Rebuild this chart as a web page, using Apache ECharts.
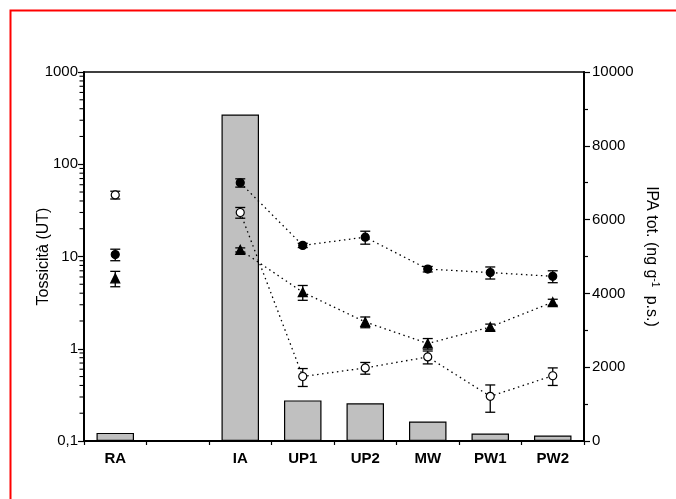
<!DOCTYPE html>
<html>
<head>
<meta charset="utf-8">
<script src="https://cdn.jsdelivr.net/npm/echarts@6/dist/echarts.min.js"></script>
<style>html,body{margin:0;padding:0;background:#fff}#c{width:676px;height:499px}</style>
</head>
<body>
<div id="c"></div>
<script>
const categories = ['RA', '', 'IA', 'UP1', 'UP2', 'MW', 'PW1', 'PW2'];
const ipaTot = [220, null, 8850, 1100, 1020, 530, 205, 150];
const toxFilled = [10.5, null, 63, 13.2, 16.2, 7.3, 6.7, 6.1];
const toxFilledErr = [1.5, null, 6.5, 0.7, 2.6, 0.5, 1.0, 0.9];
const toxOpen = [46.5, null, 30, 0.5, 0.62, 0.815, 0.305, 0.51];
const toxOpenErr = [4.5, null, 4, 0.11, 0.09, 0.13, 0.1, 0.11];
const toxTri = [5.8, null, 11.8, 4.1, 1.95, 1.14, 1.72, 3.2];
const toxTriErr = [1.1, null, 0.6, 0.75, 0.26, 0.15, 0.13, 0.24];
const leftMinorTicks = [0.2,0.3,0.4,0.5,0.6,0.7,0.8,0.9,2,3,4,5,6,7,8,9,20,30,40,50,60,70,80,90,200,300,400,500,600,700,800,900];

const FONT = '"Liberation Sans", Arial, Helvetica, sans-serif';
const chart = echarts.init(document.getElementById('c'), null, {renderer: 'canvas'});

function errData(vals, errs) {
  const out = [];
  vals.forEach((v, i) => { if (v != null) out.push([i, v - errs[i], v + errs[i]]); });
  return out;
}
function errSeries(vals, errs) {
  return {
    type: 'custom', yAxisIndex: 0, z: 4, silent: true,
    data: errData(vals, errs),
    encode: {x: 0, y: [1, 2]},
    renderItem: function (params, api) {
      const lo = api.coord([api.value(0), api.value(1)]);
      const hi = api.coord([api.value(0), api.value(2)]);
      const w = 5;
      const st = {stroke: '#000', lineWidth: 1.3};
      return {type: 'group', children: [
        {type: 'line', shape: {x1: lo[0], y1: lo[1], x2: hi[0], y2: hi[1]}, style: st},
        {type: 'line', shape: {x1: lo[0]-w, y1: lo[1], x2: lo[0]+w, y2: lo[1]}, style: st},
        {type: 'line', shape: {x1: hi[0]-w, y1: hi[1], x2: hi[0]+w, y2: hi[1]}, style: st}
      ]};
    }
  };
}
function toLine(vals) { return vals.map(v => v == null ? '-' : v); }
function lineSeries(vals, symbol, size, fill) {
  return {
    type: 'line', yAxisIndex: 0, z: 5,
    data: toLine(vals),
    symbol: symbol, symbolSize: size, showSymbol: true, showAllSymbol: true,
    connectNulls: false,
    lineStyle: {color: '#000', width: 1.3, type: [1.5, 3.5]},
    itemStyle: {color: fill, borderColor: '#000', borderWidth: 1.2},
    emphasis: {disabled: true}
  };
}

const option = {
  animation: false,
  backgroundColor: '#fff',
  textStyle: {fontFamily: FONT},
  graphic: [{
    type: 'rect', silent: true, z: 100,
    shape: {x: 10.5, y: 10.5, width: 800, height: 800},
    style: {fill: 'none', stroke: '#ff0000', lineWidth: 2}
  }],
  grid: {left: 84, right: 92, top: 72, bottom: 58, show: true, borderColor: '#000', borderWidth: 1.5, backgroundColor: 'transparent'},
  xAxis: {
    type: 'category', data: categories,
    axisLine: {lineStyle: {color: '#000', width: 2}},
    axisTick: {show: true, length: 4, lineStyle: {color: '#000', width: 1.2}},
    axisLabel: {color: '#000', fontSize: 15, fontFamily: FONT, fontWeight: 'bold', margin: 10},
    splitLine: {show: false}
  },
  yAxis: [{
    type: 'log', logBase: 10, min: 0.1, max: 1000, position: 'left',
    name: 'Tossicità (UT)', nameLocation: 'middle', nameGap: 32, nameMoveOverlap: false,
    nameTextStyle: {color: '#000', fontSize: 16, fontFamily: FONT},
    axisLine: {show: true, lineStyle: {color: '#000', width: 2}},
    axisTick: {show: true, length: 6, lineStyle: {color: '#000', width: 1.2}},
    axisLabel: {color: '#000', fontSize: 15, fontFamily: FONT, margin: 6,
      formatter: v => (Math.abs(v - 0.1) < 1e-9 ? '0,1' : String(Math.round(v)))},
    splitLine: {show: false}
  }, {
    type: 'value', min: 0, max: 10000, interval: 2000, position: 'right',
    name: 'IPA tot. (ng g{sup|-1} p.s.)', nameLocation: 'middle', nameGap: 58, nameRotate: -90, nameMoveOverlap: false,
    nameTextStyle: {color: '#000', fontSize: 16, fontFamily: FONT,
      rich: {sup: {fontSize: 10, fontFamily: FONT, color: '#000', verticalAlign: 'top', padding: [0, 4, 8, 0]}}},
    axisLine: {show: true, lineStyle: {color: '#000', width: 2}},
    axisTick: {show: true, length: 6, lineStyle: {color: '#000', width: 1.2}},
    minorTick: {show: true, splitNumber: 2, length: 4, lineStyle: {color: '#000', width: 1.2}},
    axisLabel: {color: '#000', fontSize: 15, fontFamily: FONT, margin: 8, formatter: v => String(v)},
    splitLine: {show: false}
  }],
  series: [
    {
      type: 'bar', yAxisIndex: 1, z: 2, barWidth: '60%',
      data: ipaTot.map(v => v == null ? '-' : v),
      itemStyle: {color: '#c0c0c0', borderColor: '#000', borderWidth: 1.2},
      emphasis: {disabled: true}
    },
    {
      type: 'custom', yAxisIndex: 0, z: 6, silent: true, clip: false,
      data: leftMinorTicks.map(v => [0, v]),
      encode: {x: 0, y: 1},
      renderItem: function (params, api) {
        const p = api.coord([0, api.value(1)]);
        const x0 = params.coordSys.x;
        return {type: 'line', shape: {x1: x0 - 4.5, y1: p[1], x2: x0, y2: p[1]}, style: {stroke: '#000', lineWidth: 1.1}};
      }
    },
    errSeries(toxFilled, toxFilledErr),
    errSeries(toxOpen, toxOpenErr),
    errSeries(toxTri, toxTriErr),
    lineSeries(toxFilled, 'circle', 8, '#000'),
    lineSeries(toxOpen, 'circle', 8, '#fff'),
    lineSeries(toxTri, 'triangle', 9, '#000')
  ]
};
chart.setOption(option);
</script>
</body>
</html>
